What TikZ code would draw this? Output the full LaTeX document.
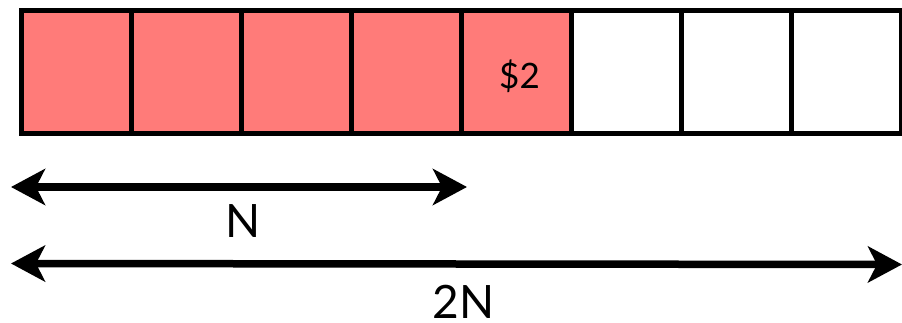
\documentclass[tikz,border=0pt]{standalone}
\usepackage{fontspec}
\setmainfont{Lato}
\usetikzlibrary{arrows.meta}
\definecolor{used}{RGB}{255,123,121}
\tikzset{
  cell/.style={draw=black, line width=5pt, minimum width=110pt, minimum height=122.7pt,
               inner sep=0pt, outer sep=0pt},
  usedcell/.style={cell, fill=used},
  freecell/.style={cell, fill=white},
  span/.style={line width=7.5pt, {Stealth[length=34pt,width=36pt,inset=9pt]}-{Stealth[length=34pt,width=36pt,inset=9pt]}},
  lbl/.style={font=\fontsize{46}{52}\selectfont, inner sep=0pt, anchor=base, text depth=0pt}
}
\begin{document}
\begin{tikzpicture}[x=1pt,y=-1pt]
  \useasboundingbox (0,0) rectangle (902,323);
  % the array: four used slots, the newly written one, three free slots
  \node[usedcell] (c1) at (76,72.2) {};
  \node[usedcell] (c2) at (186,72.2) {};
  \node[usedcell] (c3) at (296,72.2) {};
  \node[usedcell] (c4) at (406,72.2) {};
  \node[usedcell] (c5) at (516,72.2) {};
  \node[freecell] (c6) at (626,72.2) {};
  \node[freecell] (c7) at (736,72.2) {};
  \node[freecell] (c8) at (846,72.2) {};
  \node[lbl, font=\fontsize{35}{40}\selectfont] (cost) at (519.5,88.5) {\$2};
  % size markers
  \coordinate (nL) at (11,187);
  \coordinate (nR) at (467,187);
  \coordinate (tL) at (11,263.5);
  \coordinate (tR) at (902,264.5);
  \draw[span] (nL) -- (nR);
  \draw[span] (tL) -- (tR);
  \node[lbl] (n) at (243,237) {N};
  \node[lbl] (twon) at (463.5,318.5) {2N};
\end{tikzpicture}
\end{document}
